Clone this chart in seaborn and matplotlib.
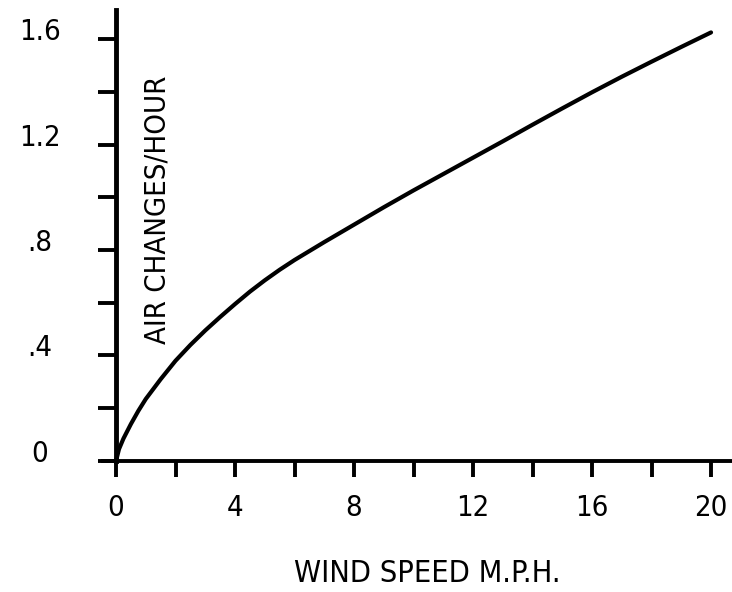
import matplotlib
matplotlib.use('agg')
import matplotlib.pyplot as plt
from matplotlib.transforms import ScaledTranslation
import seaborn as sns
import pandas as pd

# values
wind_speed = [0, 0.1, 0.25, 0.5, 0.75, 1, 1.5, 2, 2.5, 3, 3.5, 4, 4.5, 5, 5.5,
              6, 7, 8, 9, 10, 11, 12, 13, 14, 15, 16, 17, 18, 19, 20]
air_changes = [0, 0.045, 0.085, 0.14, 0.19, 0.235, 0.31, 0.38, 0.44, 0.495,
               0.546, 0.595, 0.642, 0.685, 0.725, 0.762, 0.830, 0.896, 0.962,
               1.026, 1.088, 1.15, 1.212, 1.275, 1.337, 1.398, 1.457, 1.514,
               1.57, 1.625]

x_ticks = list(range(0, 21, 2))
x_labels = ['0', '', '4', '', '8', '', '12', '', '16', '', '20']
y_ticks = [0, 0.2, 0.4, 0.6, 0.8, 1.0, 1.2, 1.4, 1.6]
y_labels = ['0', '', '.4', '', '.8', '', '1.2', '', '1.6']

sns.set_style('white')
plt.rcParams['font.family'] = ['Liberation Sans Narrow', 'DejaVu Sans']
plt.rcParams['font.stretch'] = 'condensed'
plt.rcParams['text.color'] = 'black'
plt.rcParams['xtick.labelcolor'] = 'black'
plt.rcParams['ytick.labelcolor'] = 'black'

df = pd.DataFrame({'wind': wind_speed, 'ach': air_changes})

fig = plt.figure(figsize=(7.32, 5.92), dpi=100)
ax = fig.add_axes([0.1402, 0.2213, 0.8596, 0.7618])

sns.lineplot(data=df, x='wind', y='ach', ax=ax, color='black', linewidth=3.0,
             clip_on=False)

ax.set_xlim(-0.45, 20.7)
ax.set_ylim(0, 1.71)

for s in ['top', 'right']:
    ax.spines[s].set_visible(False)
ax.spines['left'].set_position(('data', 0))
ax.spines['left'].set_linewidth(3.5)
ax.spines['bottom'].set_linewidth(2.8)
ax.spines['left'].set_color('black')
ax.spines['bottom'].set_color('black')

ax.set_xticks(x_ticks)
ax.set_xticklabels(x_labels)
ax.set_yticks(y_ticks)
ax.set_yticklabels(y_labels)

ax.tick_params(axis='x', direction='out', length=11.5, width=2.8, pad=12,
               labelsize=21, color='black', labelcolor='black', bottom=True)
ax.tick_params(axis='y', direction='out', length=13, width=2.8, pad=41.7,
               labelsize=21, color='black', labelcolor='black', left=True)

offset = ScaledTranslation(0, 0.1, fig.dpi_scale_trans)
for lab in ax.get_yticklabels():
    lab.set_horizontalalignment('center')
    lab.set_transform(lab.get_transform() + offset)

ax.set_xlabel('')
ax.set_ylabel('')

fig.text(158 / 732, 1 - 210 / 592, 'AIR CHANGES/HOUR', rotation=90,
         ha='center', va='center', fontsize=21, color='black')
fig.text(427 / 732, 1 - 574 / 592, 'WIND SPEED M.P.H.', ha='center',
         va='center', fontsize=22, color='black')

fig.savefig('out.png', dpi=100)
